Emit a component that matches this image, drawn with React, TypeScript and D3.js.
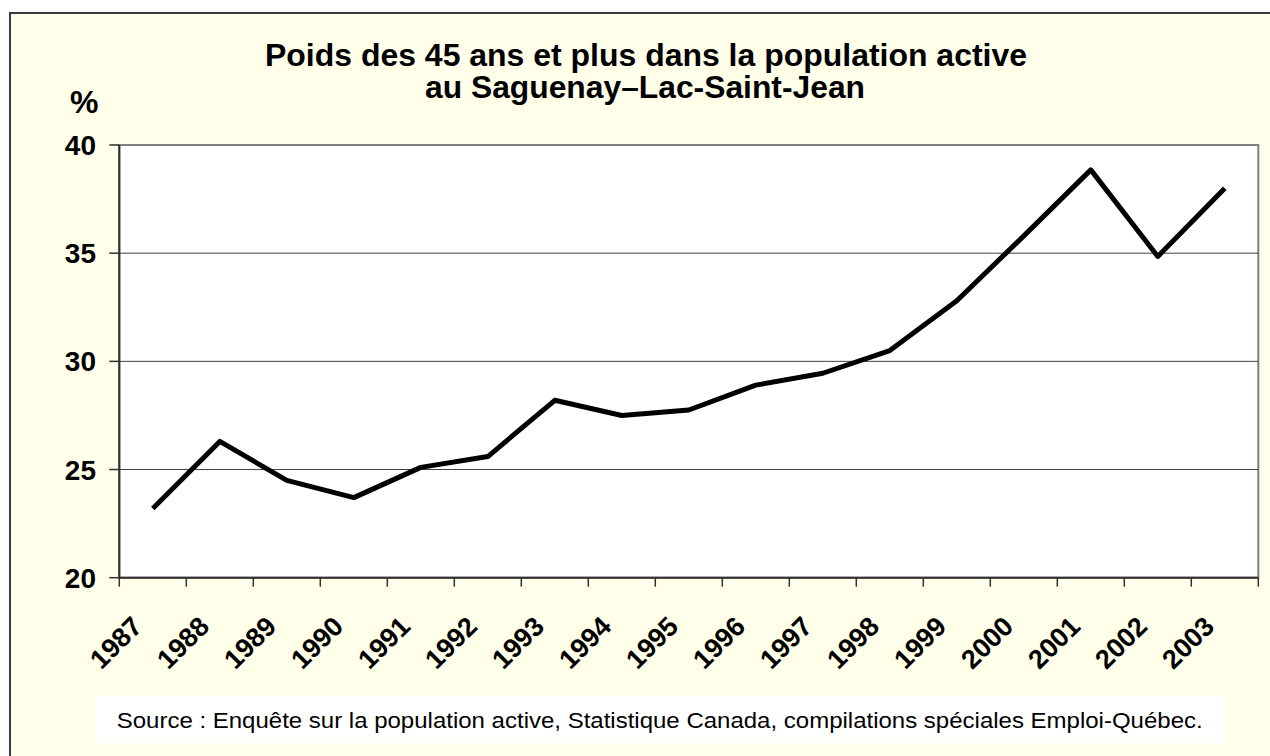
import * as d3 from "d3";
import React from "react";

const years = ["1987", "1988", "1989", "1990", "1991", "1992", "1993", "1994", "1995",
  "1996", "1997", "1998", "1999", "2000", "2001", "2002", "2003"];
const share = [23.2, 26.3, 24.5, 23.7, 25.1, 25.6, 28.2, 27.5, 27.75,
  28.9, 29.45, 30.5, 32.8, 35.8, 38.85, 34.85, 38.0];
const yTicks = [20, 25, 30, 35, 40];
const titleLines = ["Poids des 45 ans et plus dans la population active", "au Saguenay–Lac-Saint-Jean"];
const sourceText = "Source : Enquête sur la population active, Statistique Canada, compilations spéciales Emploi-Québec.";

export default function App() {
  const width = 1270;
  const height = 756;
  const left = 119.3;
  const right = 1258.3;
  const top = 145;
  const bottom = 577.7;
  const font = "'Liberation Sans', Arial, sans-serif";

  const x = d3.scaleBand().domain(years).range([left, right]);
  const y = d3.scaleLinear().domain([20, 40]).range([bottom, top]);

  // line through category centres
  const line = d3
    .line<number>()
    .x((d, i) => x(years[i])! + x.bandwidth() / 2)
    .y((d) => y(d));

  return (
    <svg width={width} height={height} style={{ position: "absolute", left: 0, top: 0 }}>
      <rect x={0} y={0} width={width} height={height} fill="#ffffff" />
      {/* chart area with frame running off the right and bottom */}
      <rect x={10} y={13} width={width + 20} height={height + 20} fill="#ffffea" stroke="#3c3c3c" strokeWidth={2} />

      {/* title */}
      <g fontFamily={font} fontWeight="bold" fontSize={31} textAnchor="middle" fill="#000">
        <text x={646} y={66} textLength={762} lengthAdjust="spacingAndGlyphs">{titleLines[0]}</text>
        <text x={645} y={98} textLength={440} lengthAdjust="spacingAndGlyphs">{titleLines[1]}</text>
      </g>
      <text x={70} y={113} fontFamily={font} fontWeight="bold" fontSize={32}>%</text>

      {/* plot area */}
      <rect x={left} y={top} width={right - left} height={bottom - top} fill="#ffffff" stroke="#808080" strokeWidth={2} />
      {yTicks.filter((t) => t > 20 && t < 40).map((t) => (
        <line key={t} x1={left} x2={right} y1={y(t)} y2={y(t)} stroke="#404040" strokeWidth={1} />
      ))}

      {/* y axis */}
      <line x1={left} x2={left} y1={top} y2={bottom} stroke="#303030" strokeWidth={2} />
      {yTicks.map((t) => (
        <g key={t}>
          <line x1={left - 10} x2={left} y1={y(t)} y2={y(t)} stroke="#303030" strokeWidth={1.5} />
          <text x={96} y={y(t) + 10} textAnchor="end" fontFamily={font} fontWeight="bold" fontSize={28}>{t}</text>
        </g>
      ))}

      {/* x axis, ticks between categories */}
      <line x1={left} x2={right} y1={bottom} y2={bottom} stroke="#303030" strokeWidth={2} />
      {years.map((yr) => (
        <line key={yr} x1={x(yr)!} x2={x(yr)!} y1={bottom} y2={bottom + 9} stroke="#303030" strokeWidth={1.5} />
      ))}
      <line x1={right} x2={right} y1={bottom} y2={bottom + 9} stroke="#303030" strokeWidth={1.5} />
      {years.map((yr) => {
        const cx = x(yr)! + x.bandwidth() / 2 - 9;
        const cy = 628;
        return (
          <text key={yr} x={cx} y={cy} transform={`rotate(-45 ${cx} ${cy})`} textAnchor="end"
            fontFamily={font} fontWeight="bold" fontSize={27}>{yr}</text>
        );
      })}

      {/* series */}
      <path d={line(share)!} fill="none" stroke="#000" strokeWidth={5} strokeLinejoin="round" />

      {/* source box */}
      <rect x={96.3} y={696} width={1225 - 96.3} height={47.3} fill="#ffffff" />
      <text x={116.7} y={727.7} fontFamily={font} fontSize={22} textLength={1086} lengthAdjust="spacingAndGlyphs">{sourceText}</text>
    </svg>
  );
}
